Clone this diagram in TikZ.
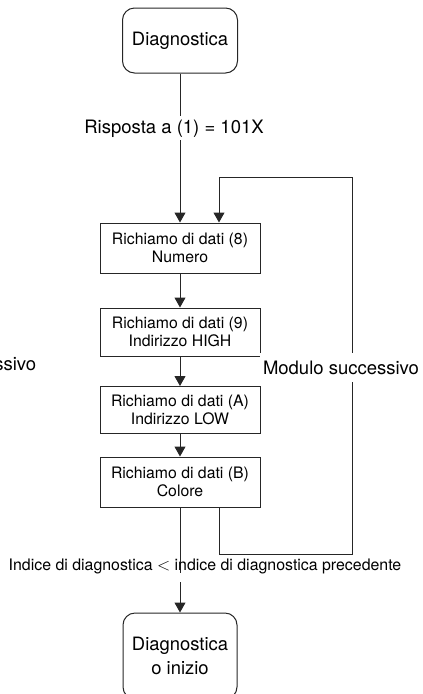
\documentclass[tikz,border=0pt]{standalone}
\usepackage{fontspec}
\setmainfont{TeX Gyre Heros}
\usetikzlibrary{arrows.meta}
\begin{document}
\begin{tikzpicture}[x=1pt, y=-1pt, line width=1pt,
  >={Triangle[length=10pt,width=11pt]},
  term/.style={draw=black!85, rounded corners=12pt, minimum width=115pt,
    align=center, inner sep=0pt, font=\fontsize{18.4}{24}\selectfont},
  stepbox/.style={draw=black!85, minimum width=160pt, minimum height=48pt,
    align=center, inner sep=0pt, font=\fontsize{15.8}{18}\selectfont},
  lbl/.style={fill=white, font=\fontsize{18.5}{22}\selectfont},
  link/.style={draw=black!85}]
\clip (0,0) rectangle (423,694);

% terminals and steps
\node[term, minimum height=65pt] (start) at (180,40.5) {Diagnostica};
\node[stepbox, minimum height=50pt] (b1) at (180,248) {Richiamo di dati (8)\\Numero};
\node[stepbox] (b2) at (180,332) {Richiamo di dati (9)\\Indirizzo HIGH};
\node[stepbox, minimum height=47pt] (b3) at (180,410) {Richiamo di dati (A)\\Indirizzo LOW};
\node[stepbox, minimum height=50pt] (b4) at (180,482) {Richiamo di dati (B)\\Colore};
\node[term, minimum height=86pt, minimum width=114pt] (end) at (180,656) {Diagnostica\\o inizio};

% loop corners and the break around the exit condition
\coordinate (lb) at (352,554);
\coordinate (lt) at (352,177);
\coordinate (g1) at (180,573);
\coordinate (g2) at (180,582);

% main flow
\draw[link, ->] (start) -- (b1);
\draw[link, ->] (b1) -- (b2);
\draw[link, ->] (b2) -- (b3);
\draw[link, ->] (b3) -- (b4);
\draw[link] (b4) -- (g1);
\draw[link, ->] (g2) -- (end);

% next-module loop
\draw[link, ->] ([xshift=39pt]b4.south) |- (lb) -- (lt) -| ([xshift=39pt]b1.north);

% labels
\node[lbl, anchor=base] (resp) at (174,133) {Risposta a (1) = 101X};
\node[lbl, anchor=base, inner ysep=8pt] (modr) at (341,374) {Modulo successivo};
\node[lbl, anchor=base east] (modl) at (40,370) {Modulo successivo};
\node[anchor=base, inner sep=0pt, font=\fontsize{15.9}{18}\selectfont] (cond) at (205,570)
  {Indice di diagnostica $<$ indice di diagnostica precedente};
\end{tikzpicture}
\end{document}
